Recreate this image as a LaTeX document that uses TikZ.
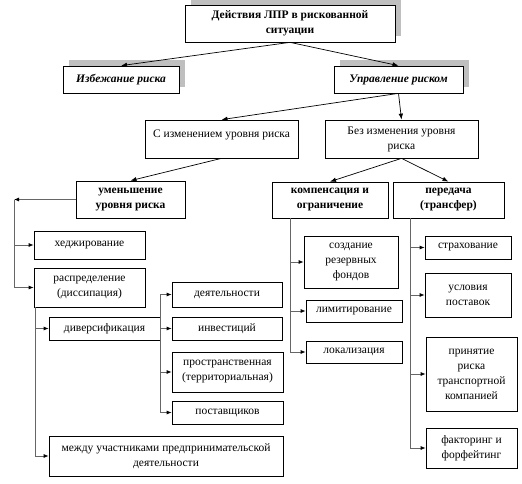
\documentclass[tikz,border=0pt]{standalone}
\usepackage{fontspec}
\setmainfont{Liberation Serif}
\usetikzlibrary{positioning, arrows.meta, shadows}
\tikzset{
  % --- boxes ---
  box/.style={draw, fill=white, align=center, inner sep=2pt, line width=0.7pt,
    font=\fontsize{11.5}{15}\selectfont},
  headbox/.style={box, font=\fontsize{11.5}{15}\selectfont\bfseries},
  topbox/.style={headbox, drop shadow={shadow xshift=6pt, shadow yshift=6pt,
    fill=black!25, opacity=1}},
  topital/.style={topbox, font=\fontsize{11.5}{15}\selectfont\bfseries\itshape},
  dim/.style 2 args={minimum width=#1pt, minimum height=#2pt},
  % --- connectors ---
  down/.style={-{Latex[length=6pt, width=4.5pt]}, line width=0.7pt},
  branch/.style={-{Latex[length=5pt, width=4pt, color=black]}, draw=black!60,
    line width=0.8pt},
}

\begin{document}
\begin{tikzpicture}[x=1pt, y=-1pt]
  \useasboundingbox (0,0) rectangle (522,484);
  % upper levels
  \node[topbox, dim={210}{37}] (top) at (290,23.5) {Действия ЛПР в рискованной\\ситуации};
  \node[topital, dim={116}{27}] (avoid) at (121,79.5) {Избежание риска};
  \node[topital, dim={129}{27}] (manage) at (398.5,79.5) {Управление риском};
  \node[box, dim={153}{38}, text depth=10pt] (withch) at (221.5,139) {С изменением уровня риска};
  \node[box, dim={153}{38}] (noch) at (401.5,139) {Без изменения уровня\\риска};
  \node[headbox, dim={109}{37}] (reduce) at (130.5,199.5) {уменьшение\\уровня риска};
  \node[headbox, dim={116}{36}] (comp) at (330,200) {компенсация и\\ограничение};
  \node[headbox, dim={111}{36}] (transf) at (448.5,200) {передача\\(трансфер)};
  % reduction branch
  \node[box, dim={111}{28}] (hedge) at (89.5,245) {хеджирование};
  \node[box, dim={111}{39}] (distr) at (89.5,287.5) {распределение\\(диссипация)};
  \node[box, dim={111}{23}] (divers) at (104.5,328.5) {диверсификация};
  \node[box, dim={110}{25}] (activ) at (227,294.5) {деятельности};
  \node[box, dim={110}{23}] (invest) at (227,328.5) {инвестиций};
  \node[box, dim={111}{40}] (spatial) at (227.5,372) {пространственная\\(территориальная)};
  \node[box, dim={111}{23}] (suppl) at (227.5,412.5) {поставщиков};
  \node[box, dim={234}{40}] (between) at (166,456) {между участниками предпринимательской\\деятельности};
  % compensation branch
  \node[box, dim={94}{52}] (reserve) at (351,262) {создание\\резервных\\фондов};
  \node[box, dim={96}{22}] (limit) at (354,311) {лимитирование};
  \node[box, dim={96}{22}] (local) at (354,352) {локализация};
  % transfer branch
  \node[box, dim={86}{23}] (insur) at (468,247.5) {страхование};
  \node[box, dim={86}{44}] (cond) at (468,295) {условия\\поставок};
  \node[box, dim={91}{74}] (accept) at (471.5,374) {принятие\\риска\\транспортной\\компанией};
  \node[box, dim={91}{40}] (factor) at (471.5,448) {факторинг и\\форфейтинг};
  % arrows between levels
  \foreach \a/\b in {top/avoid, top/manage, manage/withch, manage/noch,
    withch/reduce, noch/comp, noch/transf}{
    \draw[down] (\a.south) -- (\b.north);
  }
  % trunks
  \coordinate (rtrunk) at (14,199.5);
  \draw[branch] (reduce.west) -- (rtrunk);
  \foreach \n in {hedge, distr}{ \draw[branch] (rtrunk) |- (\n.west); }
  \foreach \n in {divers, between}{ \draw[branch] ([xshift=1.5pt]distr.south west) |- (\n.west); }
  \foreach \n in {activ, invest, spatial, suppl}{ \draw[branch] (divers.east) |- (\n.west); }
  \foreach \n in {reserve, limit, local}{ \draw[branch] ([xshift=19pt]comp.south west) |- (\n.west); }
  \foreach \n in {insur, cond, accept, factor}{ \draw[branch] ([xshift=18pt]transf.south west) |- (\n.west); }
\end{tikzpicture}
\end{document}
